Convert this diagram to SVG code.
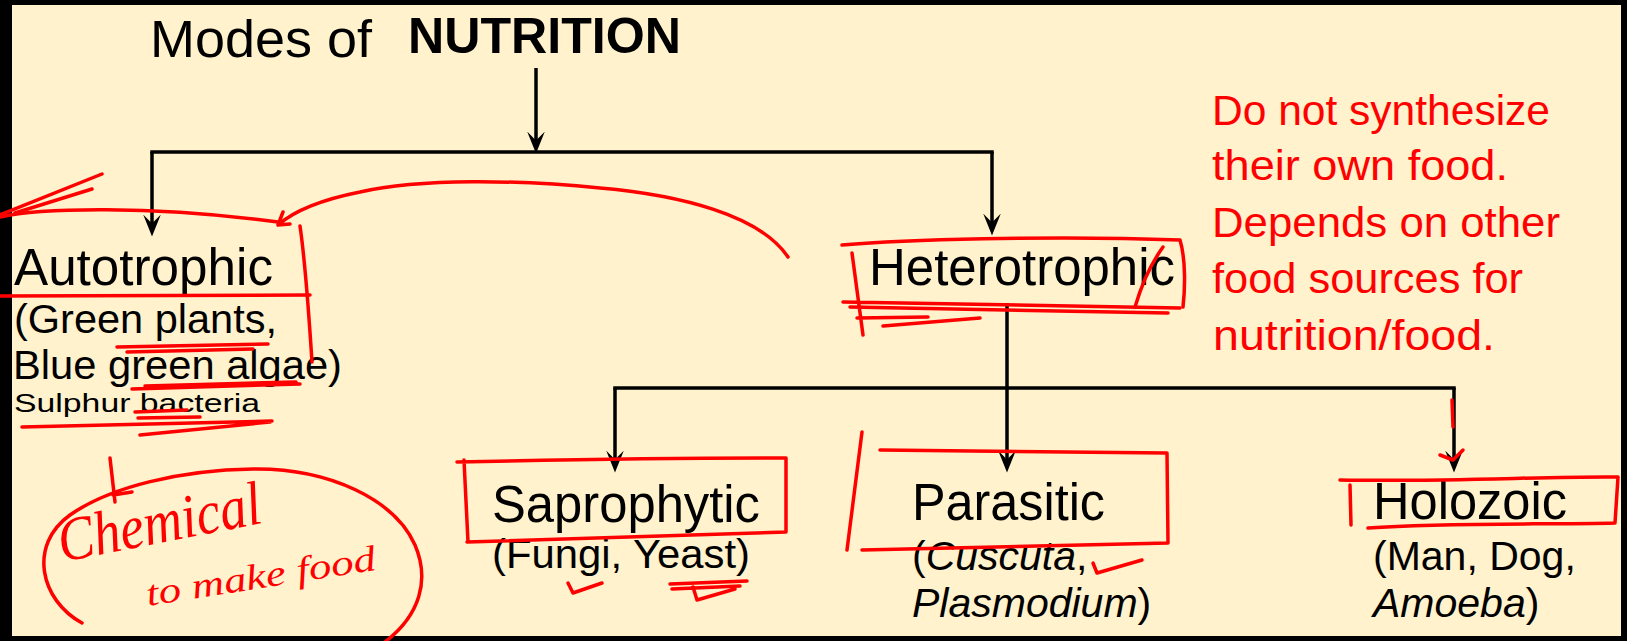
<svg xmlns="http://www.w3.org/2000/svg" width="1627" height="641" viewBox="0 0 1627 641">
<style>
.bg{fill:#FFF2CC}
.lbl{font-family:"Liberation Sans",Arial,sans-serif;fill:#000}
.big{font-size:51px}
.sub{font-size:41px}
.it{font-style:italic}
.note{font-family:"Liberation Sans",Arial,sans-serif;font-size:43px;fill:#FF0000}
.hand{font-family:"Liberation Serif","DejaVu Serif",serif;font-style:italic;fill:#FF0000}
.con{stroke:#000;stroke-width:3.5;fill:none}
.ink{stroke:#FF0000;stroke-width:3.5;fill:none;stroke-linecap:round;stroke-linejoin:round}
</style>
<defs>
<marker id="arr" markerUnits="userSpaceOnUse" viewBox="0 0 20 20" refX="14" refY="10" markerWidth="22" markerHeight="22" orient="auto">
<path d="M0,2 L20,10 L0,18 L8,10 z" fill="#000"/>
</marker>
</defs>
<rect x="0" y="0" width="1627" height="641" fill="#000"/>
<rect class="bg" x="12" y="5" width="1609" height="631"/>

<g id="title">
<text class="lbl" x="150" y="57" font-size="51" textLength="222" lengthAdjust="spacingAndGlyphs">Modes of</text>
<text class="lbl" x="408" y="53" font-size="50" font-weight="bold" textLength="273" lengthAdjust="spacingAndGlyphs">NUTRITION</text>
</g>

<g id="connectors">
<path class="con" d="M536,68 V147" marker-end="url(#arr)"/>
<path class="con" d="M152,152 H992" stroke-linecap="square"/>
<path class="con" d="M152,152 V230" marker-end="url(#arr)"/>
<path class="con" d="M992,152 V229" marker-end="url(#arr)"/>
<path class="con" d="M1007,303 V466" marker-end="url(#arr)"/>
<path class="con" d="M615,388 H1454" stroke-linecap="square"/>
<path class="con" d="M615,388 V466" marker-end="url(#arr)"/>
<path class="con" d="M1454,388 V466" marker-end="url(#arr)"/>
</g>

<g id="autotrophic">
<text class="lbl big" x="14" y="285" textLength="259" lengthAdjust="spacingAndGlyphs">Autotrophic</text>
<text class="lbl sub" x="14" y="333" textLength="263" lengthAdjust="spacingAndGlyphs">(Green plants,</text>
<text class="lbl sub" x="13" y="379" textLength="329" lengthAdjust="spacingAndGlyphs">Blue green algae)</text>
<text class="lbl" x="14" y="412" font-size="26" textLength="246" lengthAdjust="spacingAndGlyphs">Sulphur bacteria</text>
</g>

<g id="heterotrophic">
<text class="lbl big" x="869" y="285" textLength="306" lengthAdjust="spacingAndGlyphs">Heterotrophic</text>
</g>

<g id="saprophytic">
<text class="lbl big" x="492" y="522" textLength="268" lengthAdjust="spacingAndGlyphs">Saprophytic</text>
<text class="lbl sub" x="492" y="568" textLength="258" lengthAdjust="spacingAndGlyphs">(Fungi, Yeast)</text>
</g>

<g id="parasitic">
<text class="lbl big" x="912" y="520" textLength="193" lengthAdjust="spacingAndGlyphs">Parasitic</text>
<text class="lbl sub" x="912" y="570">(<tspan class="it">Cuscuta</tspan>,</text>
<text class="lbl sub" x="912" y="617"><tspan class="it">Plasmodium</tspan>)</text>
</g>

<g id="holozoic">
<text class="lbl big" x="1373" y="519" textLength="194" lengthAdjust="spacingAndGlyphs">Holozoic</text>
<text class="lbl sub" x="1373" y="570">(Man, Dog,</text>
<text class="lbl sub" x="1373" y="617"><tspan class="it">Amoeba</tspan>)</text>
</g>

<g id="note">
<text class="note" x="1212" y="125" textLength="338" lengthAdjust="spacingAndGlyphs">Do not synthesize</text>
<text class="note" x="1212" y="180" textLength="296" lengthAdjust="spacingAndGlyphs">their own food.</text>
<text class="note" x="1212" y="237" textLength="348" lengthAdjust="spacingAndGlyphs">Depends on other</text>
<text class="note" x="1212" y="293" textLength="311" lengthAdjust="spacingAndGlyphs">food sources for</text>
<text class="note" x="1213" y="350" textLength="282" lengthAdjust="spacingAndGlyphs">nutrition/food.</text>
</g>

<g id="annotations">
<path class="ink" d="M0,217 C40,208 150,205 278,222"/>
<path class="ink" d="M300,226 C305,260 308,300 312,362"/>
<path class="ink" d="M0,296 L310,295"/>
<path class="ink" d="M788,257 C760,215 680,195 600,188 C520,180 420,178 360,192 C320,200 295,210 278,225 M278,225 L283,212 M278,225 L290,224"/>
<path class="ink" d="M0,215 L102,174 M15,213 L92,189"/>
<path class="ink" d="M117,347 L268,344 M127,352 L253,349"/>
<path class="ink" d="M132,389 L300,384 M145,386 L296,382"/>
<path class="ink" d="M135,412 L187,410 M138,418 L200,417 M22,427 L272,421 M140,435 L270,422"/>

<path class="ink" d="M842,245 C900,240 1050,235 1180,240 C1186,260 1185,290 1183,307"/>
<path class="ink" d="M843,302 L1180,308 M850,307 L1168,313 M852,253 L863,335 M857,318 L928,317 M883,326 L980,318"/>
<path class="ink" d="M1163,247 C1150,265 1140,290 1135,307"/>

<path class="ink" d="M457,462 C550,460 700,458 786,458 L786,532 M467,542 L786,532 M464,460 L468,542"/>
<path class="ink" d="M568,583 L573,593 L602,583"/>
<path class="ink" d="M670,584 L747,581 M672,589 L740,586 M693,587 L697,600 L735,589"/>

<path class="ink" d="M880,450 L1167,453 L1168,543 M862,550 L1168,543 M862,432 L847,550"/>
<path class="ink" d="M1093,563 L1097,573 L1142,560"/>

<path class="ink" d="M1340,480 C1450,482 1550,476 1618,477 L1615,523 M1368,528 C1450,522 1550,525 1615,523 M1350,485 L1351,525"/>
<path class="ink" d="M1440,455 L1453,460 L1463,450 M1452,400 L1453,427"/>

<path class="ink" d="M82,623 C40,600 28,545 70,515 C110,487 180,470 253,469 C330,468 395,500 415,545 C430,580 420,615 385,642"/>
<path class="ink" d="M110,458 L115,502 M113,495 L132,492"/>
<text class="hand" x="62" y="562" font-size="62" textLength="206" lengthAdjust="spacingAndGlyphs" transform="rotate(-11 62 562)">Chemical</text>
<text class="hand" x="148" y="606" font-size="36" textLength="232" lengthAdjust="spacingAndGlyphs" transform="rotate(-9 148 606)">to make food</text>
</g>
</svg>
